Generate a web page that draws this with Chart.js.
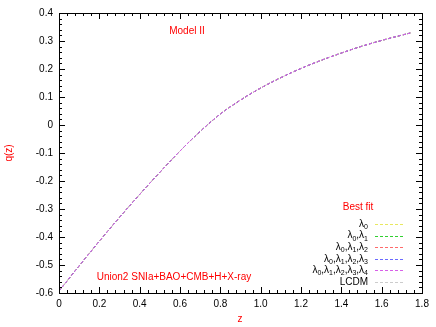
<!DOCTYPE html>
<html>
<head>
<meta charset="utf-8">
<script src="https://cdn.jsdelivr.net/npm/chart.js@4"></script>
<style>
  html, body { margin: 0; padding: 0; background: #fff; }
  #wrap { width: 436px; height: 327px; position: relative; }
</style>
</head>
<body>
<div id="wrap"><canvas id="qz"></canvas></div>
<script>
// redshift samples and deceleration parameter
const zValues = [0, 0.1, 0.2, 0.3, 0.4, 0.5, 0.6, 0.7, 0.8, 0.9, 1.0, 1.1, 1.2, 1.3, 1.4, 1.5, 1.6, 1.7, 1.75];
const qValues = [-0.593, -0.503, -0.415, -0.330, -0.248, -0.169, -0.093, -0.023, 0.039, 0.089, 0.132, 0.169, 0.202, 0.231, 0.257, 0.281, 0.302, 0.321, 0.330];

const seriesLabels = ['λ0', 'λ0,λ1', 'λ0,λ1,λ2', 'λ0,λ1,λ2,λ3', 'λ0,λ1,λ2,λ3,λ4', 'LCDM'];
const seriesColors = ['#e8e860', '#30d030', '#ff6a6a', '#6a6aff', '#d860e8', '#cccccc'];
const drawOrder = [5, 4, 3, 2, 0, 6];

const xTicks = { min: 0, max: 1.8, step: 0.2, minor: 0.04 };
const yTicks = { min: -0.6, max: 0.4, step: 0.1, minor: 0.02 };

const FONT = 'Liberation Sans, Arial, Helvetica, sans-serif';

function points(zs, qs) {
    return zs.map(function (z, i) { return { x: z, y: qs[i] }; });
}

const datasets = seriesLabels.map(function (label, i) {
    return {
        label: label,
        data: points(zValues, qValues),
        borderColor: seriesColors[i],
        borderWidth: 1,
        borderDash: [3, 2],
        pointRadius: 0,
        fill: false,
        tension: 0.4,
        order: drawOrder[i]
    };
});

// draw "λ0,λ1" style text with the digits as subscripts, right aligned at x
function drawSubText(ctx, text, xRight, y) {
    const parts = [];
    for (const ch of text) {
        parts.push({ ch: ch, sub: /[0-9]/.test(ch) });
    }
    let w = 0;
    parts.forEach(function (p) {
        ctx.font = (p.sub ? '7px ' : '10px ') + FONT;
        p.w = ctx.measureText(p.ch).width;
        w += p.w;
    });
    let x = xRight - w;
    parts.forEach(function (p) {
        ctx.font = (p.sub ? '7px ' : '10px ') + FONT;
        ctx.fillText(p.ch, x, p.sub ? y + 3 : y);
        x += p.w;
    });
}

const framePlugin = {
    id: 'frame',
    afterDraw: function (chart) {
        const ctx = chart.ctx;
        const a = chart.chartArea;
        const xs = chart.scales.x, ys = chart.scales.y;
        ctx.save();
        ctx.strokeStyle = '#000';
        ctx.lineWidth = 1;
        ctx.strokeRect(Math.round(a.left) + 0.5, Math.round(a.top) + 0.5,
            Math.round(a.right - a.left), Math.round(a.bottom - a.top));
        ctx.beginPath();
        // x ticks, inward on bottom and top
        const nx = Math.round((xTicks.max - xTicks.min) / xTicks.minor);
        for (let i = 0; i <= nx; i++) {
            const v = xTicks.min + i * xTicks.minor;
            const px = Math.round(xs.getPixelForValue(v)) + 0.5;
            const len = (i % 5 === 0) ? 6 : 3;
            ctx.moveTo(px, a.bottom); ctx.lineTo(px, a.bottom - len);
            ctx.moveTo(px, a.top); ctx.lineTo(px, a.top + len);
        }
        const ny = Math.round((yTicks.max - yTicks.min) / yTicks.minor);
        for (let i = 0; i <= ny; i++) {
            const v = yTicks.min + i * yTicks.minor;
            const py = Math.round(ys.getPixelForValue(v)) + 0.5;
            const len = (i % 5 === 0) ? 6 : 3;
            ctx.moveTo(a.left, py); ctx.lineTo(a.left + len, py);
            ctx.moveTo(a.right, py); ctx.lineTo(a.right - len, py);
        }
        ctx.stroke();

        // labels
        ctx.fillStyle = '#ff0000';
        ctx.font = '10px ' + FONT;
        ctx.textAlign = 'center';
        ctx.textBaseline = 'middle';
        ctx.fillText('Model II', 187, 31);
        ctx.fillText('Union2 SNIa+BAO+CMB+H+X-ray', 174, 277);
        ctx.fillText('Best fit', 358, 207);
        ctx.fillText('z', 240, 319);
        ctx.save();
        ctx.translate(9, 153);
        ctx.rotate(-Math.PI / 2);
        ctx.fillText('q(z)', 0, 0);
        ctx.restore();

        // legend
        ctx.textAlign = 'left';
        ctx.fillStyle = '#000';
        chart.data.datasets.forEach(function (ds, i) {
            const y = 224 + i * 11.6;
            drawSubText(ctx, ds.label, 368, y);
            ctx.beginPath();
            ctx.strokeStyle = ds.borderColor;
            ctx.setLineDash([3, 2]);
            ctx.moveTo(375, Math.round(y) + 0.5);
            ctx.lineTo(403, Math.round(y) + 0.5);
            ctx.stroke();
            ctx.setLineDash([]);
        });
        ctx.restore();
    }
};

new Chart(document.getElementById('qz').getContext('2d'), {
    type: 'line',
    data: { datasets: datasets },
    options: {
        responsive: true,
        maintainAspectRatio: false,
        animation: false,
        layout: { padding: { left: 0, right: 14, top: 13, bottom: 0 } },
        plugins: {
            legend: { display: false },
            tooltip: { enabled: false }
        },
        scales: {
            x: {
                type: 'linear',
                min: xTicks.min,
                max: xTicks.max,
                grid: { display: false, drawTicks: false },
                border: { display: false },
                ticks: { stepSize: xTicks.step, color: '#000', font: { family: FONT, size: 10 }, padding: 5, maxRotation: 0 },
                afterFit: function (s) { s.height = 34; }
            },
            y: {
                min: yTicks.min,
                max: yTicks.max,
                grid: { display: false, drawTicks: false },
                border: { display: false },
                ticks: { stepSize: yTicks.step, color: '#000', font: { family: FONT, size: 10 }, padding: 6 },
                afterFit: function (s) { s.width = 59; }
            }
        }
    },
    plugins: [framePlugin]
});
</script>
</body>
</html>
